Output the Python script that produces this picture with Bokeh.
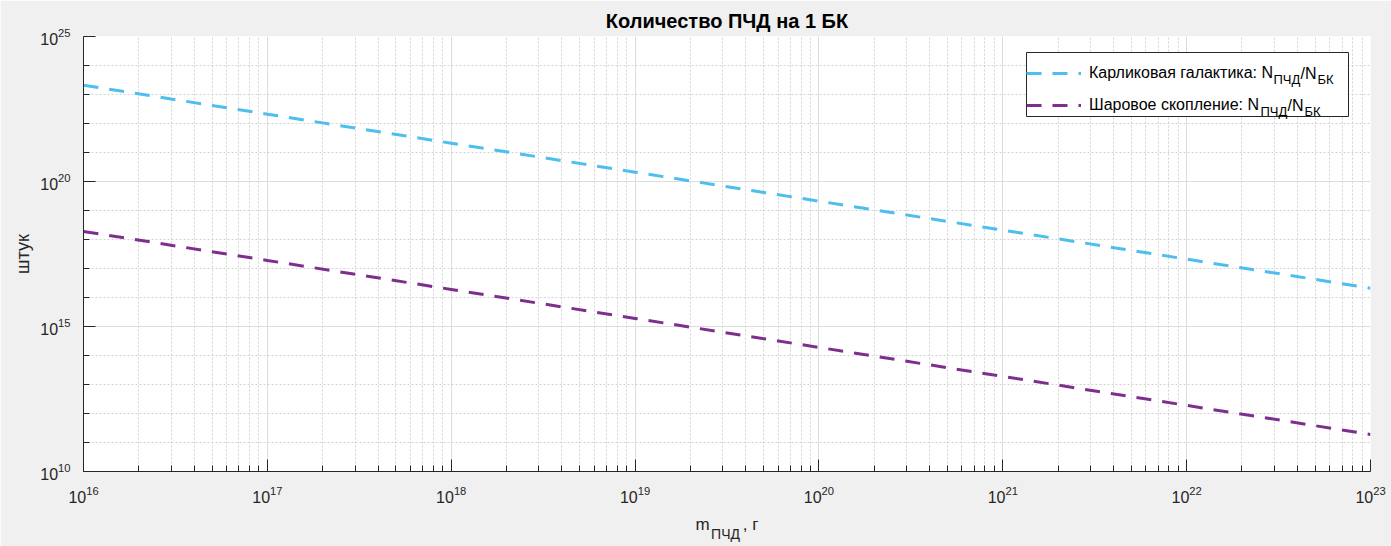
import math
from bokeh.plotting import figure
from bokeh.models import (FixedTicker, Label, Legend, LegendItem, Range1d, BoxAnnotation,
                          LogAxis, CustomJSTickFormatter)
from bokeh.embed import file_html
from bokeh.resources import INLINE

# ---- data ----
x_mass = [1e16, 1e17, 1e18, 1e19, 1e20, 1e21, 1e22, 1e23]
n_dwarf = [2.1e23, 2.1e22, 2.1e21, 2.1e20, 2.1e19, 2.1e18, 2.1e17, 2.1e16]
n_globular = [1.9e18, 1.9e17, 1.9e16, 1.9e15, 1.9e14, 1.9e13, 1.9e12, 1.9e11]

x_major = [1e16, 1e17, 1e18, 1e19, 1e20, 1e21, 1e22, 1e23]
x_minor = [k * 10.0 ** e for e in range(16, 23) for k in range(2, 10)]
y_major = [1e10, 1e15, 1e20, 1e25]
y_minor = [10.0 ** e for e in range(11, 25) if e % 5]

title_text = "Количество ПЧД на 1 БК"
ylabel_text = "штук"
xlabel_main = "m" + "\u00a0" * 7 + ", г"
xlabel_sub = "ПЧД"
series_names = ["Карликовая галактика: N", "Шаровое скопление: N"]
sub_a, slash_b, sub_b = "ПЧД", "/N", "БК"

# ---- layout ----
W, H = 1391, 546
L, R, T, B = 83, 21, 36, 75
FW, FH = W - L - R, H - T - B
FONT = "Liberation Sans"
AX = "#262626"

p = figure(width=W, height=H, x_axis_type="log", y_axis_type="log",
           x_range=Range1d(1e16, 1e23), y_range=Range1d(1e10, 1e25),
           output_backend="svg", toolbar_location=None,
           min_border_left=L, min_border_right=R, min_border_top=T, min_border_bottom=B)
p.background_fill_color = "white"
p.border_fill_color = "#F0F0F0"
p.outline_line_color = None

p.title.text = title_text
p.title.align = "center"
p.title.text_font = FONT
p.title.text_font_size = "20px"
p.title.text_font_style = "bold"
p.title.text_color = "black"

for ax, tk in ((p.xaxis[0], FixedTicker(ticks=x_major, minor_ticks=x_minor)),
               (p.yaxis[0], FixedTicker(ticks=y_major, minor_ticks=y_minor))):
    ax.ticker = tk
    ax.axis_line_color = AX
    ax.axis_line_width = 1
    ax.major_tick_line_color = AX
    ax.minor_tick_line_color = AX
    ax.major_tick_in = 12
    ax.major_tick_out = 0
    ax.minor_tick_in = 6
    ax.minor_tick_out = 0
    ax.major_label_text_font = FONT
    ax.major_label_text_font_size = "16px"
    ax.major_label_text_color = AX
    ax.axis_label_text_font = FONT
    ax.axis_label_text_font_size = "17px"
    ax.axis_label_text_font_style = "normal"
    ax.axis_label_text_color = AX

p.xaxis[0].major_label_standoff = 14
p.xaxis[0].axis_label = xlabel_main
p.xaxis[0].axis_label_standoff = 9
p.yaxis[0].major_label_standoff = 13
p.yaxis[0].axis_label = ylabel_text
p.yaxis[0].axis_label_standoff = 4
p.yaxis[0].axis_label_text_font_size = "18px"

for g in (p.xgrid[0], p.ygrid[0]):
    g.grid_line_color = "#DCDCDC"
    g.grid_line_width = 1
    g.minor_grid_line_color = "#D2D2D2"
    g.minor_grid_line_dash = "2 2"
    g.minor_grid_line_width = 1


def px_to_x(px):
    return 10 ** (16 + 7 * (px - L) / FW)


# subscript of the x label: an extra, line-less axis under the main one
sub_axis = LogAxis(ticker=FixedTicker(ticks=[px_to_x(725)]),
                   formatter=CustomJSTickFormatter(args=dict(t=xlabel_sub), code="return t;"),
                   axis_line_color=None, major_tick_line_color=None, minor_tick_line_color=None,
                   major_label_text_font=FONT, major_label_text_font_size="14px",
                   major_label_text_color=AX, major_label_standoff=-17)
p.add_layout(sub_axis, "below")

r1 = p.line(x_mass, n_dwarf, line_color="#4DBEEE", line_width=3, line_dash="15 11")
r2 = p.line(x_mass, n_globular, line_color="#7E2F8E", line_width=3, line_dash="15 11")

# legend box
box_l, box_r, box_t, box_b = 1026, 1348, 52, 116
p.add_layout(BoxAnnotation(left=box_l - L, right=box_r - L, top=(H - B) - box_t, bottom=(H - B) - box_b,
                           left_units="screen", right_units="screen", top_units="screen", bottom_units="screen",
                           fill_color="white", fill_alpha=1, line_color=AX, line_width=1, line_alpha=1,
                           level="guide"))


def frame_label(cx, cy, text, size):
    p.add_layout(Label(x=cx - L, y=(H - B) - cy, x_units="screen", y_units="screen",
                       text=text, text_font=FONT, text_font_size=size, text_align="left",
                       text_baseline="alphabetic", text_color="black"))


frame_label(1273, 79, sub_a, "13px")
frame_label(1300, 73, slash_b, "16px")
frame_label(1317, 79, sub_b, "13px")
frame_label(1260, 111, sub_a, "13px")
frame_label(1287, 105, slash_b, "16px")
frame_label(1304, 111, sub_b, "13px")

legend = Legend(items=[LegendItem(label=series_names[0], renderers=[r1]),
                       LegendItem(label=series_names[1], renderers=[r2])],
                location=(box_l - L, (H - B) - box_b), glyph_width=55, glyph_height=22, label_height=22,
                label_standoff=8, padding=5, spacing=10, margin=0,
                border_line_color=None, background_fill_alpha=0,
                label_text_font=FONT, label_text_font_size="16px", label_text_color="black")
p.add_layout(legend)

open("out.html", "w").write(file_html(p, INLINE))
